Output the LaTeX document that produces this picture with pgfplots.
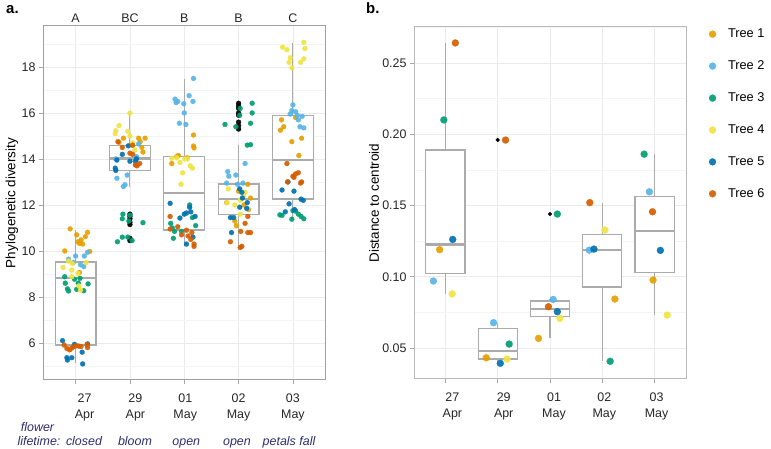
\documentclass[border=0pt]{standalone}
\usepackage{fontspec}
\setmainfont{Liberation Sans}
\usepackage{pgfplots}
\pgfplotsset{compat=1.18}
\usepgfplotslibrary{statistics}

\definecolor{tA}{HTML}{E69F00}
\definecolor{tB}{HTML}{56B4E9}
\definecolor{tC}{HTML}{009E73}
\definecolor{tD}{HTML}{F0E442}
\definecolor{tE}{HTML}{0072B2}
\definecolor{tF}{HTML}{D55E00}
\definecolor{boxc}{HTML}{ABABAB}
\definecolor{gridc}{HTML}{EBEBEB}
\definecolor{gridm}{HTML}{F4F4F4}
\definecolor{navy}{HTML}{2E2E6E}

\pgfplotsset{
 common/.style={
  scale only axis,
  xmin=-0.6, xmax=4.6, xtick={0,...,4},
  tick align=outside, xtick pos=bottom, ytick pos=left,
  major tick length=4bp, minor tick length=0pt,
  tick style={color=gray!70, line width=0.8bp},
  xmajorgrids, ymajorgrids, yminorgrids,
  major grid style={color=gridc, line width=0.6bp},
  minor grid style={color=gridm, line width=0.5bp},
  ticklabel style={font=\fontsize{12.5}{16}\selectfont, text=black!85},
  /pgf/number format/assume math mode=true,
  xticklabel style={align=center, yshift=-6bp},
  label style={font=\fontsize{13.5}{16}\selectfont},
  clip=false,
  boxplot/draw direction=y,
  boxplot/whisker extend=0,
  boxplot/box extend=0.75,
 },
 bx/.style={boxplot prepared={#1}, draw=boxc, fill=white, line width=1.1bp, solid, mark=none, forget plot,
   boxplot/every median/.style={line width=2.2bp, draw=boxc}},
 ptL/.style={only marks, mark=*, mark size=2.5bp, mark options={draw=#1, fill=#1, line width=0.2bp, opacity=0.92}},
 ptR/.style={only marks, mark=*, mark size=3.5bp, mark options={draw=#1, fill=#1, line width=0.2bp, opacity=0.92}},
}

\begin{document}
\begin{tikzpicture}[x=1bp,y=1bp]
\useasboundingbox (0,0) rectangle (771,449);

% ---------- panel a ----------
\begin{axis}[common,
  at={(43bp,69bp)}, anchor=south west,
  width=282.5bp, height=354bp,
  ymin=4.39, ymax=19.78,
  ytick={6,8,...,18}, minor ytick={5,7,...,19},
  axis line style={color=gray!75, line width=1bp},
  xticklabels={{\hspace*{18bp}27\\\hspace*{18bp}Apr},{\hspace*{11bp}29\\\hspace*{11bp}Apr},{\hspace*{2bp}01\\\hspace*{2bp}May},{02\\May},{03\\May}},
  ylabel={Phylogenetic diversity},
  ylabel style={at={(axis description cs:-0.1098,0.5)}, anchor=center},
]
\addplot[bx={draw position=0, lower whisker=5.13, lower quartile=5.91, median=8.82, upper quartile=9.52, upper whisker=10.93}] coordinates {};
\addplot[bx={draw position=1, lower whisker=12.8, lower quartile=13.48, median=14.02, upper quartile=14.57, upper whisker=16.0}] coordinates {};
\addplot[bx={draw position=2, lower whisker=10.2, lower quartile=10.91, median=12.52, upper quartile=14.1, upper whisker=17.48}] coordinates {};
\addplot[bx={draw position=3, lower whisker=10.1, lower quartile=11.57, median=12.26, upper quartile=12.91, upper whisker=14.6}] coordinates {};
\addplot[bx={draw position=4, lower whisker=11.38, lower quartile=12.26, median=13.96, upper quartile=15.87, upper whisker=19.05}] coordinates {};
% outliers
\addplot[ptL=black, forget plot] coordinates {(1,11.6) (1,11.5) (1,11.4) (1,11.25) (1,11.15) (1,10.55) (1,10.45)
 (3,16.42) (3,16.3) (3,16.2) (3,16.0) (3,15.9) (3,15.6) (3,15.45) (3,15.3)};
% Tree 1
\addplot[ptL=tA] coordinates {(-0.10,10.96) (0.02,10.70) (0.10,10.48) (0.07,10.33) (0.04,10.40) (0.13,10.30) (0.18,10.62) (0.22,10.81) (-0.20,10.00) (0.26,9.98) (0.07,9.06)
(1.16,14.90) (1.22,14.50) (1.24,14.30) (0.80,14.72) (0.88,14.90) (1.19,14.75) (1.04,14.60) (1.28,14.90)
(2.17,15.04) (2.17,14.56) (2.18,14.48) (1.89,14.15) (1.86,14.10) (1.77,13.80) (2.05,14.05)
(3.17,12.90) (3.00,12.60) (2.78,12.10) (3.10,12.00) (3.22,12.30) (2.93,11.30) (2.96,11.10) (3.18,11.80)
(3.79,15.70) (3.83,15.40) (3.77,15.25) (3.98,14.75) (4.16,14.90) (4.11,14.15) (4.05,15.80)};
% Tree 2
\addplot[ptL=tB] coordinates {(-0.13,9.64) (0.00,9.78) (0.16,9.78) (0.22,9.94) (0.15,9.32) (-0.04,9.50) (0.09,9.40)
(0.76,13.16) (0.91,12.88) (0.88,12.80) (0.95,13.30) (1.16,14.65) (1.12,14.10) (0.74,14.00)
(2.17,17.50) (1.83,16.60) (1.88,16.50) (1.85,16.45) (1.99,16.40) (2.09,16.75) (2.16,16.50) (2.00,16.00) (1.91,15.55) (2.03,15.50)
(3.12,13.80) (2.80,13.45) (2.82,13.25) (2.95,13.30) (2.98,12.90) (2.78,12.95) (3.08,12.95)
(4.00,16.35) (3.98,16.10) (4.05,16.05) (4.08,15.90) (4.17,15.85) (4.10,15.70) (4.13,15.40) (4.20,15.35) (3.95,15.95)};
% Tree 3
\addplot[ptL=tC] coordinates {(-0.20,8.88) (-0.19,8.60) (-0.13,8.26) (-0.15,8.35) (-0.02,8.77) (0.08,8.81) (0.05,8.60) (0.23,8.57) (0.02,8.33) (0.15,8.27)
(0.87,11.60) (1.00,11.55) (0.86,11.40) (0.98,11.30) (1.24,11.23) (0.77,10.40) (0.86,10.60) (0.96,10.60) (1.04,10.45)
(2.10,12.00) (1.75,11.20) (1.78,11.00) (1.82,10.85) (2.21,11.10) (1.80,10.55) (1.95,10.85) (2.15,11.45)
(3.25,16.42) (3.03,16.20) (3.25,16.00) (3.02,15.90) (2.75,15.50) (2.95,15.40) (3.22,15.55) (3.16,14.60) (3.22,14.62)
(3.76,11.57) (3.80,11.55) (4.00,11.75) (4.05,11.73) (4.10,11.60) (4.15,11.50) (4.20,11.40) (3.98,11.38)};
% Tree 4
\addplot[ptL=tD] coordinates {(-0.23,9.28) (-0.13,9.56) (-0.06,9.45) (-0.07,9.17) (0.19,9.49) (0.04,9.03) (-0.07,8.88) (0.09,8.30) (0.06,8.48)
(1.00,15.99) (0.80,15.45) (0.74,15.23) (0.73,15.10) (0.96,15.20) (1.00,15.00) (1.09,14.39) (1.05,14.70)
(1.86,14.05) (1.92,13.85) (2.01,14.00) (2.06,14.00) (2.11,13.70) (2.15,13.60) (1.97,13.40) (1.94,12.90) (1.77,14.03)
(2.81,12.70) (2.79,12.10) (3.03,12.20) (3.09,12.40) (3.16,11.85) (3.03,11.60) (2.93,12.00) (3.12,12.55)
(3.81,18.86) (3.89,18.75) (4.20,19.07) (4.22,18.80) (3.95,18.40) (3.93,18.20) (3.98,17.96) (4.14,18.20) (4.20,18.35)};
% Tree 5
\addplot[ptL=tE] coordinates {(-0.24,6.10) (-0.16,5.36) (-0.07,5.36) (-0.02,5.94) (0.12,5.60) (0.13,5.09) (0.22,5.96) (-0.15,5.26)
(0.97,14.57) (0.86,14.20) (0.76,13.95) (0.73,13.60) (0.74,13.50) (1.12,14.00) (1.10,13.90) (1.00,13.90)
(1.74,12.07) (1.92,11.43) (2.00,11.60) (2.04,11.65) (2.10,11.90) (2.12,11.70) (2.20,11.50) (2.04,10.30) (2.16,10.60)
(3.02,12.70) (3.06,12.55) (3.07,12.30) (3.16,12.10) (3.15,11.85) (2.85,11.45) (2.91,11.45) (2.87,10.80) (3.02,11.90)
(3.91,13.00) (3.80,12.65) (4.02,12.60) (4.15,12.25) (4.19,12.20) (3.93,12.05) (4.03,11.80) (3.86,11.70)};
% Tree 6
\addplot[ptL=tF] coordinates {(-0.21,5.91) (-0.16,5.76) (-0.11,5.70) (-0.07,5.78) (-0.04,5.83) (0.02,5.88) (0.06,5.86) (0.21,5.93) (0.22,5.80) (0.10,5.85)
(0.78,14.75) (0.86,14.50) (1.05,14.60) (1.05,14.20) (1.10,13.74) (1.13,13.70) (1.00,14.25) (1.18,13.80)
(1.74,11.50) (1.88,11.05) (1.74,10.95) (2.04,10.90) (2.14,10.80) (2.07,10.65) (2.12,10.50) (2.18,10.30) (2.18,10.20) (1.95,10.70)
(3.17,11.50) (3.04,10.85) (3.17,10.80) (3.22,10.80) (2.85,10.40) (3.03,10.15) (3.06,10.20) (3.12,11.20)
(3.89,13.80) (4.02,13.20) (4.05,13.35) (4.10,13.40) (4.00,13.25) (3.90,13.00) (4.14,12.95) (4.16,13.00)};
% group letters
\foreach \i/\t in {0/A,1/BC,2/B,3/B,4/C}{
  \edef\tmp{\noexpand\node[anchor=base, font=\noexpand\fontsize{12.5}{14}\noexpand\selectfont, text=black!85, yshift=3.5bp] at (axis cs:\i,19.78) {\t};}\tmp
}
\end{axis}

% ---------- panel b ----------
\begin{axis}[common,
  at={(414bp,70bp)}, anchor=south west,
  width=272bp, height=352bp,
  ymin=0.0283, ymax=0.2752,
  ytick={0.05,0.10,0.15,0.20,0.25}, minor ytick={0.075,0.125,0.175,0.225,0.275},
  yticklabel style={/pgf/number format/fixed, /pgf/number format/fixed zerofill, /pgf/number format/precision=2},
  axis line style={color=gray!55, line width=1bp},
  xticklabels={{\hspace*{14bp}27\\\hspace*{14bp}Apr},{\hspace*{12bp}29\\\hspace*{12bp}Apr},{\hspace*{8bp}01\\\hspace*{8bp}May},{\hspace*{4bp}02\\\hspace*{4bp}May},{\hspace*{4bp}03\\\hspace*{4bp}May}},
  ylabel={Distance to centroid},
  ylabel style={at={(axis description cs:-0.147,0.5)}, anchor=center},
  legend style={at={(axis description cs:1.073,1.006)}, anchor=north west, draw=none, fill=none,
    font=\fontsize{12.8}{15}\selectfont, row sep=17.6bp, cells={anchor=west},
    /tikz/every odd column/.append style={column sep=10bp}},
  legend image code/.code={\draw[#1] plot coordinates {(0bp,0bp)};},
]
\addplot[bx={draw position=0, lower whisker=0.088, lower quartile=0.1026, median=0.1227, upper quartile=0.1889, upper whisker=0.264}] coordinates {};
\addplot[bx={draw position=1, lower whisker=0.0393, lower quartile=0.0423, median=0.0479, upper quartile=0.064, upper whisker=0.0678}] coordinates {};
\addplot[bx={draw position=2, lower whisker=0.0568, lower quartile=0.072, median=0.0773, upper quartile=0.083, upper whisker=0.0841}] coordinates {};
\addplot[bx={draw position=3, lower whisker=0.0407, lower quartile=0.0928, median=0.119, upper quartile=0.1295, upper whisker=0.152}] coordinates {};
\addplot[bx={draw position=4, lower whisker=0.0731, lower quartile=0.103, median=0.1322, upper quartile=0.156, upper whisker=0.186}] coordinates {};
\addplot[only marks, mark=*, mark size=1.9bp, mark options={fill=black, draw=black}, forget plot] coordinates {(1,0.196) (2,0.144)};
\addplot[ptR=tA] coordinates {(-0.11,0.119) (0.78,0.0432) (1.78,0.0568) (3.24,0.0844) (3.97,0.0977)};
\addlegendentry{Tree 1}
\addplot[ptR=tB] coordinates {(-0.23,0.097) (0.92,0.0678) (2.06,0.0841) (2.75,0.1187) (3.90,0.1596)};
\addlegendentry{Tree 2}
\addplot[ptR=tC] coordinates {(-0.03,0.210) (1.22,0.0528) (2.14,0.144) (3.15,0.0407) (3.80,0.186)};
\addlegendentry{Tree 3}
\addplot[ptR=tD] coordinates {(0.13,0.088) (1.18,0.0423) (2.19,0.0708) (3.05,0.1328) (4.24,0.0731)};
\addlegendentry{Tree 4}
\addplot[ptR=tE] coordinates {(0.14,0.1262) (1.05,0.0393) (2.14,0.0755) (2.84,0.1194) (4.11,0.1185)};
\addlegendentry{Tree 5}
\addplot[ptR=tF] coordinates {(0.19,0.264) (1.15,0.1959) (1.97,0.079) (2.76,0.152) (3.96,0.1456)};
\addlegendentry{Tree 6}
\end{axis}

% ---------- panel letters and annotation ----------
\node[anchor=base west, inner sep=0, font=\fontsize{15}{17}\selectfont\bfseries] at (6,435) {a.};
\node[anchor=base west, inner sep=0, font=\fontsize{15}{17}\selectfont\bfseries] at (366,435) {b.};
\begin{scope}[every node/.style={anchor=base, inner sep=0, text=navy, font=\fontsize{12.5}{14}\selectfont\itshape}]
\node at (37.5,17.5) {flower};
\node at (39,3) {lifetime:};
\node at (84,3) {closed};
\node at (135,3) {bloom};
\node at (186.3,3) {open};
\node at (237,3) {open};
\node at (289,3) {petals fall};
\end{scope}
\end{tikzpicture}
\end{document}
